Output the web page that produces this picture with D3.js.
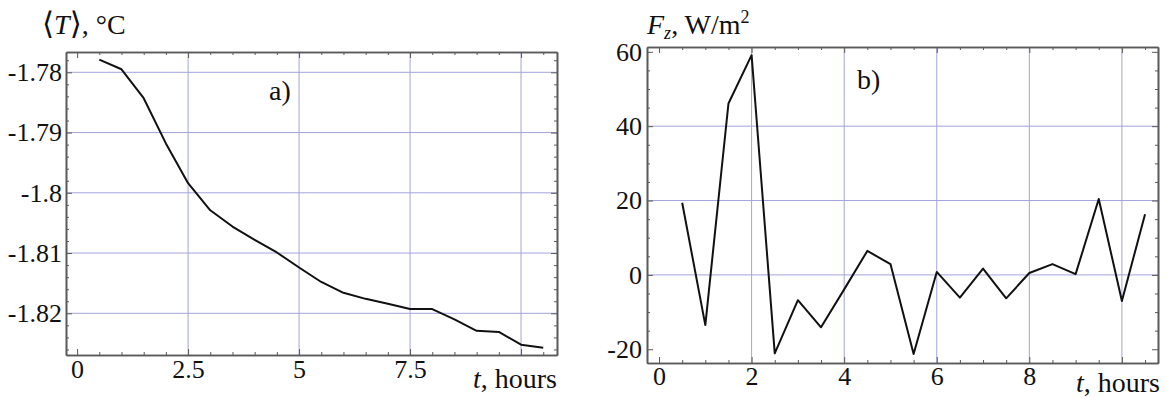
<!DOCTYPE html>
<html>
<head>
<meta charset="utf-8">
<script src="https://cdn.jsdelivr.net/npm/d3@7"></script>
<style>
  html, body { margin: 0; padding: 0; background: #fff; }
  svg { display: block; }
</style>
</head>
<body>
<svg id="chart" width="1167" height="398"></svg>
<script>
// Sampling times, hours
const hours = [0.5, 1, 1.5, 2, 2.5, 3, 3.5, 4, 4.5, 5, 5.5, 6, 6.5, 7, 7.5, 8, 8.5, 9, 9.5, 10, 10.5];

// a) mean temperature <T>, °C
const meanTemp = [-1.7779, -1.7795, -1.7843, -1.7918, -1.7984, -1.8029, -1.8056, -1.8078, -1.8099, -1.8124,
                  -1.8148, -1.8166, -1.8176, -1.8184, -1.8193, -1.8193, -1.8210, -1.8229, -1.8231, -1.8252, -1.8257];

// b) vertical heat flux F_z, W/m²
const heatFlux = [19.4, -13.5, 46.1, 59.1, -21.1, -6.8, -14.1, -3.9, 6.45, 2.9,
                  -21.3, 0.8, -6.1, 1.7, -6.3, 0.5, 2.9, 0.2, 20.4, -7.0, 16.3];

// Ticks and grid
const tempTicks = [-1.82, -1.81, -1.8, -1.79, -1.78];
const tempTickLabels = ["-1.82", "-1.81", "-1.8", "-1.79", "-1.78"];
const tempMinor = d3.range(-1.826, -1.7765, 0.002);
const timeTicksA = [0, 2.5, 5, 7.5, 10];
const timeLabelsA = ["0", "2.5", "5", "7.5", ""];
const timeGridA = [2.5, 5, 7.5, 10];

const fluxTicks = [-20, 0, 20, 40, 60];
const fluxTickLabels = ["-20", "0", "20", "40", "60"];
const fluxMinor = d3.range(-20, 61, 5);
const fluxGrid = [0, 20, 40];
const timeTicksB = [0, 2, 4, 6, 8, 10];
const timeLabelsB = ["0", "2", "4", "6", "8", ""];
const timeGridB = [2, 4, 6, 8, 10];
const timeMinor = d3.range(0, 10.75, 0.5);

const svg = d3.select("#chart");
const SERIF = '"Liberation Serif", "Times New Roman", serif';
const FONT = 26;

function serifText(sel, size) {
  return sel.style("font-family", SERIF).style("font-size", size + "px").style("fill", "#111");
}

function panel(opts) {
  const { left, right, top, bottom, xDomain, yDomain, ys, xTicks, xLabels, xGrid,
          yTicks, yLabels, yGrid, yMinor, xPad, yPad } = opts;
  const x = d3.scaleLinear().domain(xDomain).range([left, right]);
  const y = d3.scaleLinear().domain(yDomain).range([bottom, top]);
  const g = svg.append("g");

  // grid lines
  g.append("g").selectAll("line").data(xGrid).join("line")
    .attr("x1", d => x(d)).attr("x2", d => x(d))
    .attr("y1", top).attr("y2", bottom)
    .attr("stroke", "#a4a4dc").attr("stroke-width", 1);
  g.append("g").selectAll("line").data(yGrid).join("line")
    .attr("x1", left).attr("x2", right)
    .attr("y1", d => y(d)).attr("y2", d => y(d))
    .attr("stroke", "#a4a4dc").attr("stroke-width", 1);

  // frame ticks, pointing inward
  const styleAxis = sel => {
    sel.selectAll(".domain").attr("stroke", "#5a5a5a").attr("stroke-width", 1.6);
    sel.selectAll(".tick line").attr("stroke", "#5a5a5a").attr("stroke-width", 1);
    serifText(sel.selectAll(".tick text"), FONT);
  };
  const minorX = timeMinor.filter(v => !xTicks.includes(v));
  const minorY = yMinor.filter(v => !yTicks.some(t => Math.abs(t - v) < 1e-9));

  g.append("g").attr("transform", `translate(0,${bottom})`)
    .call(d3.axisBottom(x).tickValues(minorX).tickSize(-3).tickSizeOuter(0).tickFormat(""))
    .call(styleAxis);
  g.append("g").attr("transform", `translate(0,${top})`)
    .call(d3.axisTop(x).tickValues(minorX).tickSize(-3).tickSizeOuter(0).tickFormat(""))
    .call(styleAxis);
  g.append("g").attr("transform", `translate(${left},0)`)
    .call(d3.axisLeft(y).tickValues(minorY).tickSize(-3).tickSizeOuter(0).tickFormat(""))
    .call(styleAxis);
  g.append("g").attr("transform", `translate(${right},0)`)
    .call(d3.axisRight(y).tickValues(minorY).tickSize(-3).tickSizeOuter(0).tickFormat(""))
    .call(styleAxis);

  g.append("g").attr("transform", `translate(0,${bottom})`)
    .call(d3.axisBottom(x).tickValues(xTicks).tickSize(-6).tickSizeOuter(0).tickPadding(xPad)
      .tickFormat((d, i) => xLabels[i]))
    .call(styleAxis);
  g.append("g").attr("transform", `translate(0,${top})`)
    .call(d3.axisTop(x).tickValues(xTicks).tickSize(-6).tickSizeOuter(0).tickFormat(""))
    .call(styleAxis);
  g.append("g").attr("transform", `translate(${left},0)`)
    .call(d3.axisLeft(y).tickValues(yTicks).tickSize(-6).tickSizeOuter(0).tickPadding(yPad)
      .tickFormat((d, i) => yLabels[i]))
    .call(styleAxis);
  g.append("g").attr("transform", `translate(${right},0)`)
    .call(d3.axisRight(y).tickValues(yTicks).tickSize(-6).tickSizeOuter(0).tickFormat(""))
    .call(styleAxis);

  // data line
  const line = d3.line().x((d, i) => x(hours[i])).y(d => y(d));
  g.append("path").datum(ys).attr("d", line)
    .attr("fill", "none").attr("stroke", "#111").attr("stroke-width", 2)
    .attr("stroke-linejoin", "round");

  return { x, y, g };
}

// a) mean temperature
panel({
  left: 66, right: 557, top: 52, bottom: 355,
  xDomain: [-0.25, 10.81], yDomain: [-1.82692, -1.77663],
  ys: meanTemp, xTicks: timeTicksA, xLabels: timeLabelsA, xGrid: timeGridA,
  yTicks: tempTicks, yLabels: tempTickLabels, yGrid: tempTicks, yMinor: tempMinor,
  xPad: 5, yPad: 4
});

// b) heat flux
panel({
  left: 647, right: 1158, top: 47, bottom: 363,
  xDomain: [-0.26, 10.78], yDomain: [-23.7, 61.3],
  ys: heatFlux, xTicks: timeTicksB, xLabels: timeLabelsB, xGrid: timeGridB,
  yTicks: fluxTicks, yLabels: fluxTickLabels, yGrid: fluxGrid, yMinor: fluxMinor,
  xPad: 4, yPad: 5
});

// axis titles
const ta = serifText(svg.append("text").attr("x", 42).attr("y", 34), 28);
ta.append("tspan").text("\u27E8").style("font-family", '"DejaVu Serif", serif').style("font-size", "31px");
ta.append("tspan").text("T").style("font-style", "italic");
ta.append("tspan").text("\u27E9").style("font-family", '"DejaVu Serif", serif').style("font-size", "31px");
ta.append("tspan").text(", \u00B0C");

const tb = serifText(svg.append("text").attr("x", 647).attr("y", 34), 28);
tb.append("tspan").text("F").style("font-style", "italic");
tb.append("tspan").text("z").style("font-style", "italic").style("font-size", "18px").attr("dy", 5);
tb.append("tspan").text(", W/m").attr("dy", -5);
tb.append("tspan").text("2").style("font-size", "18px").attr("dy", -11);

function timeLabel(xRight, yBase) {
  const t = serifText(svg.append("text").attr("x", xRight).attr("y", yBase)
    .attr("text-anchor", "end"), 28);
  t.append("tspan").text("t").style("font-style", "italic");
  t.append("tspan").text(", hours");
}
timeLabel(557, 388);
timeLabel(1160, 392);

// panel letters
serifText(svg.append("text").attr("x", 269).attr("y", 100), 28).text("a)");
serifText(svg.append("text").attr("x", 857).attr("y", 89), 28).text("b)");
</script>
</body>
</html>
